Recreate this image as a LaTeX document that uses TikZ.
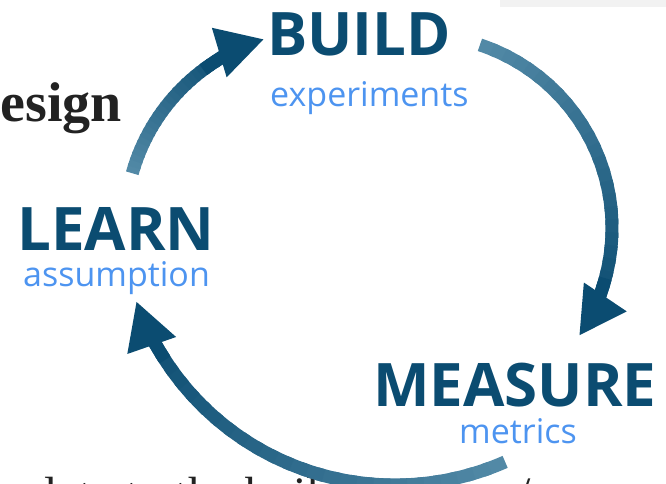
\documentclass[tikz,border=0pt]{standalone}
\usepackage{fontspec}
\setmainfont{Liberation Serif}
\newfontfamily\labelfont{Open Sans}
\usetikzlibrary{arrows.meta,calc}

\definecolor{headblue}{HTML}{0B4C71}
\definecolor{tailblue}{HTML}{5289A6}
\definecolor{subblue}{HTML}{4D94F0}
\definecolor{bodygray}{HTML}{222222}

\tikzset{
  stage/.style={inner sep=0pt, anchor=base west, text=headblue, font=\labelfont\bfseries\fontsize{60}{60}\selectfont},
  stagesub/.style={inner sep=0pt, anchor=base west, text=subblue, font=\labelfont\fontsize{34}{34}\selectfont},
  heading/.style={inner sep=0pt, anchor=base west, text=bodygray, font=\bfseries\fontsize{56}{56}\selectfont},
  bodytext/.style={inner sep=0pt, anchor=base west, text=bodygray, font=\fontsize{48}{48}\selectfont},
  arcline/.style={line width=13pt},
}

% shaded arc with a head: centre, radius, start angle, head base angle, tip angle
\newcommand{\cyclearc}[5]{
  \foreach \i in {0,...,23}{
    \pgfmathsetmacro{\segfrom}{(#3)+((#4)-(#3))*\i/24}
    \pgfmathsetmacro{\segto}{(#3)+((#4)-(#3))*(\i+1.4)/24}
    \pgfmathtruncatemacro{\segpct}{100-\i*4}
    \draw[arcline, draw=tailblue!\segpct!headblue] ($(#1)+(\segfrom:#2)$) arc[start angle=\segfrom, end angle=\segto, radius=#2];
  }
  \pgfmathsetmacro{\headfrom}{(#4)-((#5)-(#4))*0.4}
  \draw[arcline, draw=headblue, fill=headblue, -{Triangle[length=47pt,width=48pt]}] ($(#1)+(\headfrom:#2)$) arc[start angle=\headfrom, end angle=#5, radius=#2];
}

\begin{document}
\begin{tikzpicture}[x=1pt,y=1pt]
  \useasboundingbox (0,0) rectangle (666,484);
  \clip (0,0) rectangle (666,484);
  \fill[black!5] (500,477) rectangle (666,484);

  % Nodes
  \node[stage] (build) at (267,428) {BUILD};
  \node[stagesub] (buildsub) at (270,377) {experiments};
  \node[stage] (learn) at (17,233) {LEARN};
  \node[stagesub] (learnsub) at (23,197) {assumption};
  \node[stage] (measure) at (373,77) {MEASURE};
  \node[stagesub] (measuresub) at (459,40) {metrics};
  \node[heading] (design) at (0.5,362) {esign};
  \node[bodytext] (body) at (44,-27) {late to the build/measure/};

  % arc centres
  \coordinate (toBuild) at (320,258);
  \coordinate (toMeasure) at (419,256);
  \coordinate (toLearn) at (395,273);

  % Edges
  \cyclearc{toBuild}{195}{164.3}{121}{106.6}
  \cyclearc{toMeasure}{193}{71.6}{-20.5}{-34}
  \cyclearc{toLearn}{274}{-66.3}{-151}{-160.8}
\end{tikzpicture}
\end{document}
